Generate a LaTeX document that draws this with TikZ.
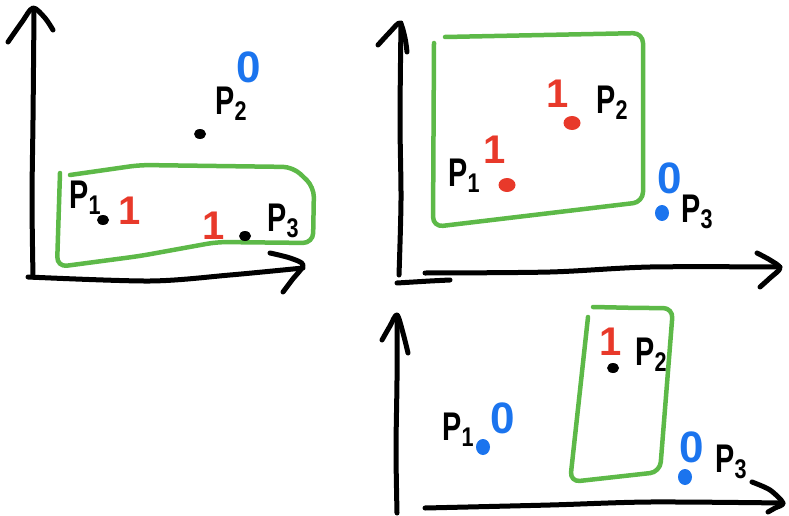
\documentclass[tikz,border=0pt]{standalone}
\usepackage{fontspec}
\setmainfont{Liberation Sans}
\usetikzlibrary{shapes.geometric}
\definecolor{boxgreen}{HTML}{5DB948}
\definecolor{redc}{HTML}{E8392A}
\definecolor{bluec}{HTML}{1B74EE}
\begin{document}
\begin{tikzpicture}[x=1pt,y=-1pt,line cap=round,line join=round,
  axis/.style={draw=black,line width=5pt},
  gbox/.style={draw=boxgreen,line width=4.5pt,rounded corners=10pt},
  plabel/.style={inner sep=0pt,font=\bfseries\fontsize{40}{40}\selectfont},
  onelbl/.style={inner sep=0pt,text=redc,font=\bfseries\fontsize{40}{40}\selectfont},
  zerolbl/.style={inner sep=0pt,text=bluec,font=\bfseries\fontsize{44}{44}\selectfont},
  dotb/.style={ellipse,fill=black,inner sep=0pt,minimum width=12pt,minimum height=10pt},
  dotr/.style={ellipse,fill=redc,inner sep=0pt,minimum width=17pt,minimum height=14pt},
  dotbl/.style={ellipse,fill=bluec,inner sep=0pt,minimum width=14pt,minimum height=16pt}]
\useasboundingbox (0,0) rectangle (789,516);
\newcommand{\Psub}[1]{\scalebox{0.72}[1]{P}\raisebox{-0.3ex}{\fontsize{27}{27}\selectfont\scalebox{0.8}[1]{#1}}}
% ---------- panel 1 ----------
\draw[axis] plot[smooth] coordinates {(33,277) (32,200) (33,120) (34,12)};
\draw[axis] plot[smooth] coordinates {(8,42) (22,22) (33,8) (45,18) (53,30)};
\draw[axis] plot[smooth] coordinates {(28,277) (150,281) (230,275) (303,268)};
\draw[axis] plot[smooth] coordinates {(270,253) (290,258) (303,265) (292,280) (283,292)};
\draw[gbox] (60,173) -- (57,267) -- (140,256) -- (217,242) -- (313,243) -- (314,187) -- (293,167) -- (140,165) -- (70,175);
\node[dotb] (a1) at (103,220) {};
\node[dotb] (a2) at (200,134) {};
\node[dotb] (a3) at (245,236) {};
\node[plabel] (la1) at (85,198) {\Psub{1}};
\node[plabel] (la2) at (231,104) {\Psub{2}};
\node[plabel] (la3) at (283,221) {\Psub{3}};
\node[onelbl] (oa1) at (130,211) {1};
\node[onelbl] (oa3) at (214,226) {1};
\node[zerolbl] (za2) at (249,67) {0};
% ---------- panel 2 ----------
\draw[axis] plot[smooth] coordinates {(399,275) (401,200) (400,120) (401,23)};
\draw[axis] plot[smooth] coordinates {(378,45) (390,32) (400,23) (405,38) (407,52)};
\draw[axis] plot[smooth] coordinates {(425,273) (550,272) (650,267) (780,267)};
\draw[axis] plot[smooth] coordinates {(397,283) (430,281) (450,280)};
\draw[axis] plot[smooth] coordinates {(757,253) (770,260) (780,268) (770,278) (760,287)};
\draw[gbox] (445,37) -- (643,33) -- (643,202) -- (433,227) -- (434,43);
\node[dotr] (b1) at (507,185) {};
\node[dotr] (b2) at (572,123) {};
\node[dotbl] (b3) at (662,213) {};
\node[plabel] (lb1) at (464,176) {\Psub{1}};
\node[plabel] (lb2) at (612,103) {\Psub{2}};
\node[plabel] (lb3) at (697,212) {\Psub{3}};
\node[onelbl] (ob1) at (495,150) {1};
\node[onelbl] (ob2) at (558,94) {1};
\node[zerolbl] (zb3) at (670,178) {0};
% ---------- panel 3 ----------
\draw[axis] plot[smooth] coordinates {(397,513) (396,450) (397,380) (397,315)};
\draw[axis] plot[smooth] coordinates {(382,340) (390,326) (397,315) (403,333) (408,353)};
\draw[axis] plot[smooth] coordinates {(425,508) (550,505) (650,502) (783,503)};
\draw[axis] plot[smooth] coordinates {(752,482) (770,490) (783,503) (775,508) (768,512)};
\draw[gbox] (593,307) -- (640,308) -- (673,308) -- (660,472) -- (570,482) -- (588,317);
\node[dotbl] (c1) at (483,447) {};
\node[dotb] (c2) at (613,368) {};
\node[dotbl] (c3) at (685,477) {};
\node[plabel] (lc1) at (458,430) {\Psub{1}};
\node[plabel] (lc2) at (651,355) {\Psub{2}};
\node[plabel] (lc3) at (731,462) {\Psub{3}};
\node[onelbl] (oc2) at (611,342) {1};
\node[zerolbl] (zc1) at (503,418) {0};
\node[zerolbl] (zc3) at (692,447) {0};
\end{tikzpicture}
\end{document}
